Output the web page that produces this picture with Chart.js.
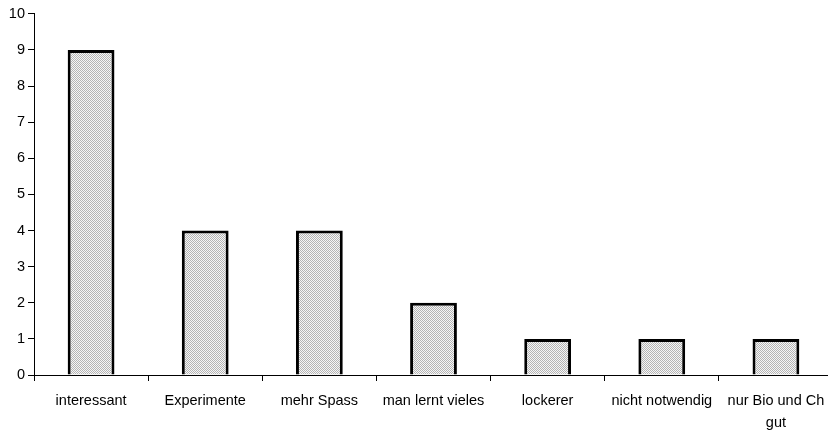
<!DOCTYPE html>
<html>
<head>
<meta charset="utf-8">
<script src="https://cdn.jsdelivr.net/npm/chart.js@4/dist/chart.umd.min.js"></script>
<style>
  html, body { margin: 0; padding: 0; background: #fff; overflow: hidden; }
  #wrap { width: 828px; height: 432px; overflow: hidden; }
</style>
</head>
<body>
<div id="wrap"><canvas id="chart" width="835" height="432"></canvas></div>
<script>
var categories = ["interessant", "Experimente", "mehr Spass", "man lernt vieles", "lockerer", "nicht notwendig", ["nur Bio und Ch", "gut"]];
var counts = [9, 4, 4, 2, 1, 1, 1];
var yMin = 0, yMax = 10, yStep = 1;

// dotted grey fill like the old spreadsheet pattern
function dotPattern() {
    var c = document.createElement('canvas');
    c.width = 2; c.height = 2;
    var g = c.getContext('2d');
    g.fillStyle = '#f6f6f6';
    g.fillRect(0, 0, 2, 2);
    g.fillStyle = '#b4b4b4';
    g.fillRect(0, 0, 1, 1);
    g.fillRect(1, 1, 1, 1);
    return g.createPattern(c, 'repeat');
}

var font = { family: 'Liberation Sans, Arial, sans-serif', size: 14.5, lineHeight: 1.5 };

// canvas is a few px wider than the page so the last category edge falls just outside, like the original
var ctx = document.getElementById('chart');
var myChart = new Chart(ctx, {
    type: 'bar',
    data: {
        labels: categories,
        datasets: [{
            data: counts,
            backgroundColor: dotPattern(),
            borderColor: '#000',
            borderWidth: 3,
            borderSkipped: 'bottom',
            categoryPercentage: 1,
            barPercentage: 0.41
        }]
    },
    options: {
        responsive: false,
        animation: false,
        layout: { padding: { top: 13, right: 2, left: 0, bottom: 0 } },
        plugins: { legend: { display: false }, tooltip: { enabled: false } },
        scales: {
            x: {
                offset: true,
                grid: { offset: true, drawOnChartArea: false, color: '#000', tickLength: 6, tickColor: '#000' },
                border: { color: '#000', width: 1 },
                ticks: { color: '#000', font: font, padding: 9, maxRotation: 0, autoSkip: false },
                afterFit: function (s) { s.height = 57; }
            },
            y: {
                min: yMin,
                max: yMax,
                grid: { drawOnChartArea: false, color: '#000', tickLength: 6, tickColor: '#000' },
                border: { color: '#000', width: 1 },
                ticks: { stepSize: yStep, color: '#000', font: font, padding: 3 },
                afterFit: function (s) { s.width = 34; }
            }
        }
    }
});
</script>
</body>
</html>
